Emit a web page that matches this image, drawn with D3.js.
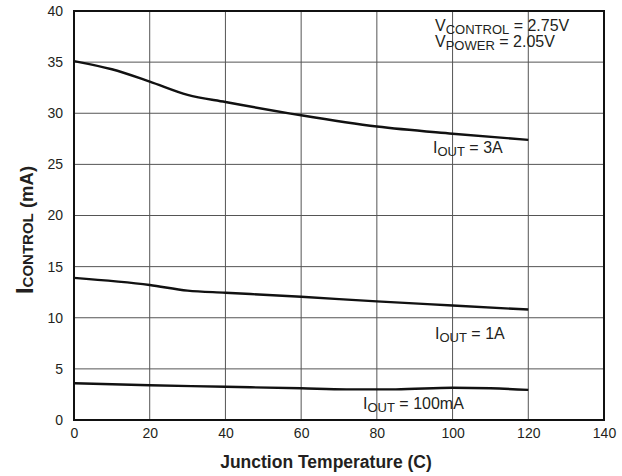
<!DOCTYPE html>
<html>
<head>
<meta charset="utf-8">
<script src="https://cdn.jsdelivr.net/npm/d3@7"></script>
<style>
  body { margin: 0; background: #fff; }
  text { font-family: "Liberation Sans", Arial, sans-serif; fill: #231f20; }
</style>
</head>
<body>
<svg id="chart" width="622" height="476"></svg>
<script>
// junction temperature (C)
var temps3A = [0, 10, 20, 30, 40, 60, 80, 100, 120];
var curr3A = [35.1, 34.3, 33.1, 31.8, 31.1, 29.8, 28.7, 28.0, 27.4];

var temps1A = [0, 20, 30, 40, 60, 80, 100, 120];
var curr1A = [13.9, 13.2, 12.65, 12.45, 12.05, 11.6, 11.2, 10.8];

var temps100 = [0, 20, 40, 60, 72, 85, 100, 110, 120];
var curr100 = [3.6, 3.4, 3.25, 3.1, 3.0, 3.0, 3.15, 3.1, 2.95];

var xTicks = [0, 20, 40, 60, 80, 100, 120, 140];
var yTicks = [0, 5, 10, 15, 20, 25, 30, 35, 40];

var svg = d3.select("#chart");
var margin = {top: 11, left: 74, right: 18, bottom: 56};
var width = 604 - margin.left,
    height = 420 - margin.top;

var g = svg.append("g")
  .attr("transform", "translate(" + margin.left + "," + margin.top + ")");

var x = d3.scaleLinear().domain([0, 140]).range([0, width]);
var y = d3.scaleLinear().domain([0, 40]).range([height, 0]);

// grid
g.selectAll("line.vgrid")
  .data(xTicks)
  .enter()
  .append("line")
  .attr("class", "vgrid")
  .attr("x1", function(d) { return x(d); })
  .attr("x2", function(d) { return x(d); })
  .attr("y1", 0)
  .attr("y2", height)
  .attr("stroke", "#555")
  .attr("stroke-width", 1);

g.selectAll("line.hgrid")
  .data(yTicks)
  .enter()
  .append("line")
  .attr("class", "hgrid")
  .attr("x1", 0)
  .attr("x2", width)
  .attr("y1", function(d) { return y(d); })
  .attr("y2", function(d) { return y(d); })
  .attr("stroke", "#555")
  .attr("stroke-width", 1);

g.append("rect")
  .attr("width", width)
  .attr("height", height)
  .attr("fill", "none")
  .attr("stroke", "#111")
  .attr("stroke-width", 2);

// axes labels
var xAxis = d3.axisBottom(x).tickValues(xTicks).tickSize(0).tickPadding(8);
var yAxis = d3.axisLeft(y).tickValues(yTicks).tickSize(0).tickPadding(11);

var xg = g.append("g").attr("transform", "translate(0," + height + ")").call(xAxis);
var yg = g.append("g").call(yAxis);
[xg, yg].forEach(function(a) {
  a.select(".domain").remove();
  a.selectAll("text")
    .attr("font-size", 14)
    .style("font-family", "Liberation Sans, Arial, sans-serif")
    .attr("fill", "#231f20");
});

// curves
var line = d3.line()
  .x(function(d) { return x(d[0]); })
  .y(function(d) { return y(d[1]); })
  .curve(d3.curveMonotoneX);

[[temps3A, curr3A], [temps1A, curr1A], [temps100, curr100]].forEach(function(s) {
  g.append("path")
    .datum(d3.zip(s[0], s[1]))
    .attr("d", line)
    .attr("fill", "none")
    .attr("stroke", "#111")
    .attr("stroke-width", 2.4);
});

// label helper: main + subscript + rest
function subLabel(px, py, main, sub, rest, shift) {
  var t = svg.append("text")
    .attr("x", px)
    .attr("y", py)
    .attr("font-size", 16);
  t.append("tspan").text(main);
  t.append("tspan").attr("font-size", 13).attr("dy", shift).text(sub);
  t.append("tspan").attr("dy", -shift).text(rest);
  return t;
}

subLabel(433, 153, "I", "OUT", " = 3A", 3);
subLabel(435, 339, "I", "OUT", " = 1A", 3);
subLabel(363, 409, "I", "OUT", " = 100mA", 3);

subLabel(435, 31, "V", "CONTROL", " = 2.75V", 2.5);
subLabel(435, 47, "V", "POWER", " = 2.05V", 2.5);

// axis titles
svg.append("text")
  .attr("x", 326)
  .attr("y", 468)
  .attr("text-anchor", "middle")
  .attr("font-size", 17.5)
  .attr("font-weight", "bold")
  .text("Junction Temperature (C)");

var yt = svg.append("text")
  .attr("transform", "translate(33,230) rotate(-90)")
  .attr("text-anchor", "middle")
  .attr("font-size", 18.5)
  .attr("font-weight", "bold");
yt.append("tspan").attr("font-size", 24).text("I");
yt.append("tspan").attr("font-size", 15).text("CONTROL");
yt.append("tspan").text(" (mA)");
</script>
</body>
</html>
